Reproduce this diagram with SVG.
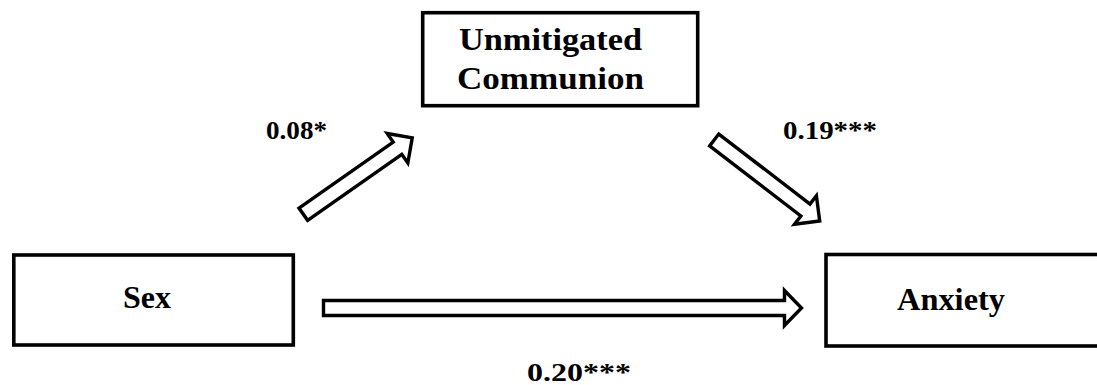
<svg xmlns="http://www.w3.org/2000/svg" width="1097" height="385" viewBox="0 0 1097 385">
  <style>
    .box { fill: #ffffff; stroke: #000000; stroke-width: 3.6; }
    .lbl { font-family: "Liberation Serif", "Times New Roman", serif; font-weight: bold; fill: #000000; }
    .node { font-size: 32px; }
    .coef { font-size: 25px; }
    .arrow { fill: #ffffff; stroke: #000000; stroke-width: 3.4; stroke-linejoin: miter; }
  </style>
  <defs>
    <!-- hollow block arrow shapes, tail at origin pointing along +x -->
    <polygon id="arrowShort" points="0,-7.5 115,-7.5 115,-18 133,0 115,18 115,7.5 0,7.5"/>
    <polygon id="arrowLong" points="0,-7.5 461,-7.5 461,-17.5 478,0 461,17.5 461,7.5 0,7.5"/>
  </defs>

  <rect width="1097" height="385" fill="#ffffff"/>

  <g id="connectors">
    <use href="#arrowShort" class="arrow" transform="translate(303.3,214.2) rotate(-35)"/>
    <use href="#arrowShort" class="arrow" transform="translate(714.2,140) rotate(37.5)"/>
    <use href="#arrowLong" class="arrow" transform="translate(323.5,308)"/>
    <text class="lbl coef" x="266" y="139" textLength="61" lengthAdjust="spacingAndGlyphs">0.08*</text>
    <text class="lbl coef" x="783" y="139" textLength="94" lengthAdjust="spacingAndGlyphs">0.19***</text>
    <text class="lbl coef" x="527" y="381" textLength="104" lengthAdjust="spacingAndGlyphs">0.20***</text>
  </g>

  <g id="node-unmitigated-communion">
    <rect class="box" x="422.7" y="12.7" width="275" height="93"/>
    <text class="lbl node" x="459" y="50" font-size="31" textLength="183" lengthAdjust="spacingAndGlyphs">Unmitigated</text>
    <text class="lbl node" x="457" y="89" font-size="31" textLength="187" lengthAdjust="spacingAndGlyphs">Communion</text>
  </g>

  <g id="node-sex">
    <rect class="box" x="13.8" y="255" width="279.5" height="90"/>
    <text class="lbl node" x="147" y="308" text-anchor="middle">Sex</text>
  </g>

  <g id="node-anxiety">
    <rect class="box" x="826" y="254.5" width="300" height="91.5"/>
    <text class="lbl node" x="897" y="310" textLength="108" lengthAdjust="spacingAndGlyphs">Anxiety</text>
  </g>
</svg>
